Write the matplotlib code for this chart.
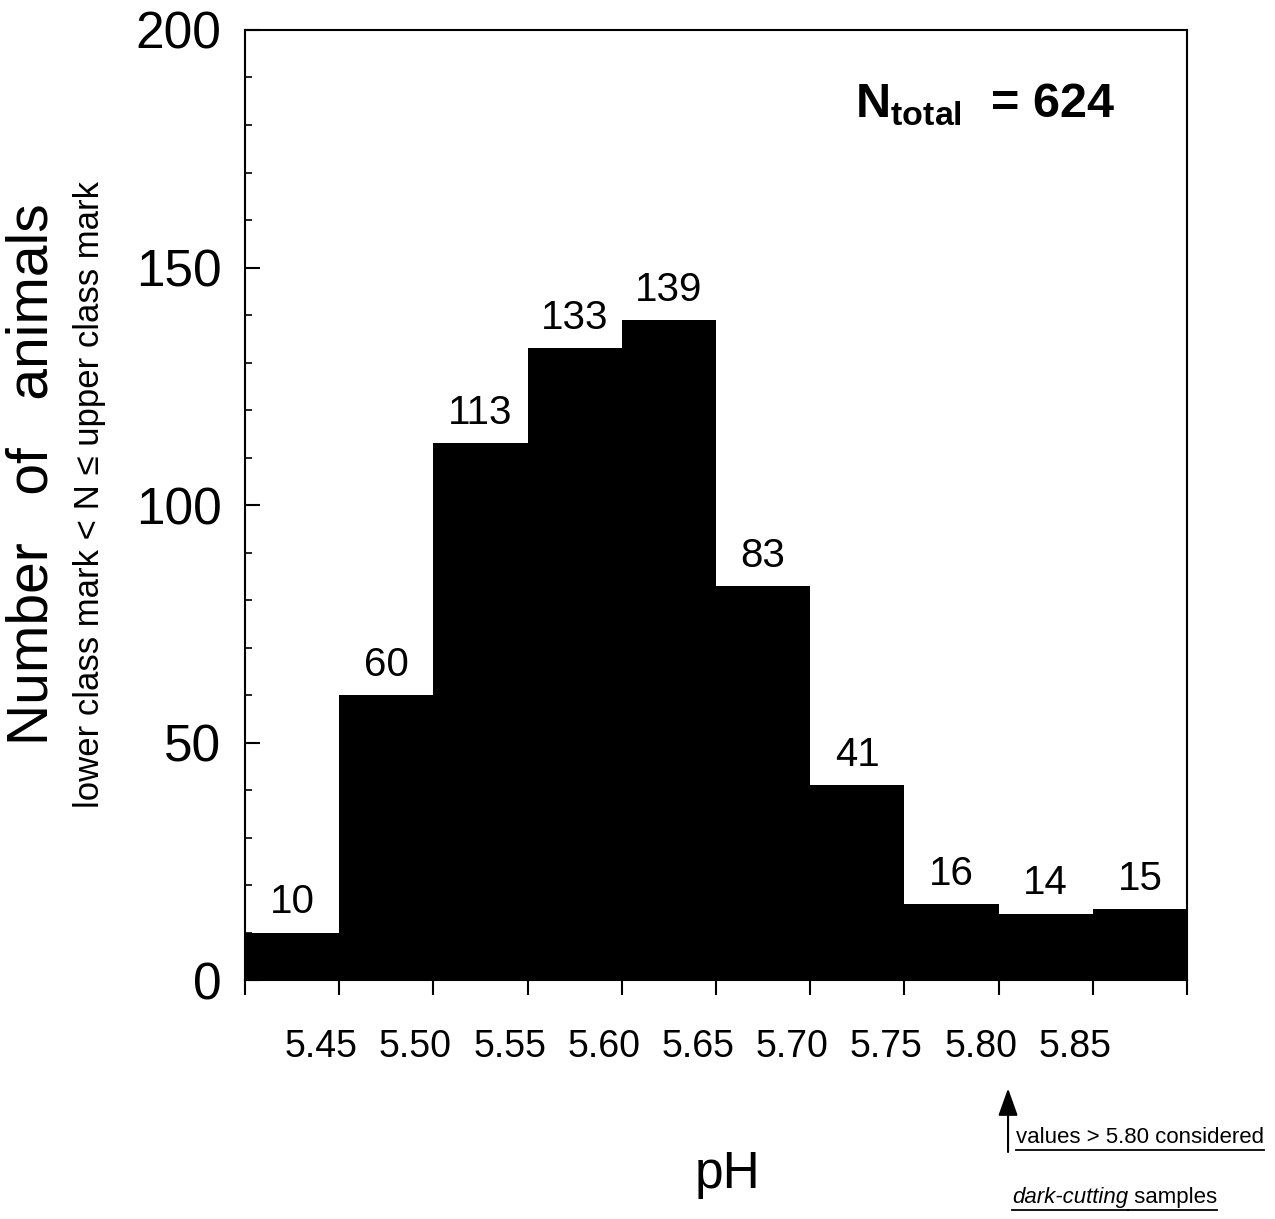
import matplotlib
matplotlib.use("Agg")
import matplotlib.pyplot as plt
import matplotlib.transforms as mtransforms
from matplotlib.lines import Line2D
from matplotlib.ticker import MultipleLocator

# class edges (pH) and counts per class
bin_edges = [5.40, 5.45, 5.50, 5.55, 5.60, 5.65, 5.70, 5.75, 5.80, 5.85, 5.90]
counts = [10, 60, 113, 133, 139, 83, 41, 16, 14, 15]
tick_labels = ["", "5.45", "5.50", "5.55", "5.60", "5.65", "5.70", "5.75", "5.80", "5.85", ""]
n_total = 624
cutoff = 5.805

plt.rcParams["font.family"] = ["Liberation Sans", "DejaVu Sans"]
plt.rcParams["mathtext.fontset"] = "custom"
plt.rcParams["mathtext.rm"] = "Liberation Sans"
plt.rcParams["mathtext.bf"] = "Liberation Sans:bold"

fig = plt.figure(figsize=(12.75, 12.19), dpi=100)
ax = fig.add_axes([0.1922, 0.196, 0.7388, 0.7794])

widths = [b - a for a, b in zip(bin_edges[:-1], bin_edges[1:])]
bars = ax.bar(bin_edges[:-1], counts, width=widths, align="edge",
              color="black", edgecolor="none")
for rect, c in zip(bars, counts):
    ax.annotate(str(c), (rect.get_x() + rect.get_width() / 2, c),
                xytext=(0, 8), textcoords="offset points",
                ha="center", va="bottom", fontsize=29)

ax.set_xlim(bin_edges[0], bin_edges[-1])
ax.set_ylim(0, 200)
for s in ax.spines.values():
    s.set_linewidth(1.5)

ax.yaxis.set_major_locator(MultipleLocator(50))
ax.yaxis.set_minor_locator(MultipleLocator(10))
ax.tick_params(axis="y", which="major", direction="in", length=11, width=1.5,
               labelsize=37, pad=17)
ax.tick_params(axis="y", which="minor", direction="in", length=5, width=1.2)
ax.set_xticks(bin_edges)
ax.set_xticklabels(tick_labels)
ax.tick_params(axis="x", which="major", direction="out", length=11, width=1.5,
               labelsize=27, pad=24)
shift = mtransforms.ScaledTranslation(-0.18, 0, fig.dpi_scale_trans)
for lab in ax.get_xticklabels():
    lab.set_transform(lab.get_transform() + shift)

ax.text(-0.226, 0.532, "Number   of   animals", transform=ax.transAxes,
        rotation=90, ha="center", va="center", fontsize=41)
ax.text(-0.165, 0.511, "lower class mark < N \u2264 upper class mark",
        transform=ax.transAxes, rotation=90, ha="center", va="center",
        fontsize=25)
ax.text(0.512, -0.205, "pH", transform=ax.transAxes, ha="center",
        va="center", fontsize=37)

ax.text(0.648, 0.907, r"$\mathbf{N}_{\mathbf{total}}$  = " + str(n_total),
        transform=ax.transAxes, ha="left", va="baseline", fontsize=35,
        fontweight="bold")

xt = ax.get_xaxis_transform()
ax.annotate("", xy=(cutoff, -0.114), xytext=(cutoff, -0.181), xycoords=xt,
            textcoords=xt, annotation_clip=False,
            arrowprops=dict(arrowstyle="-|>,head_length=1.4,head_width=0.5",
                            mutation_scale=12, lw=1.5, color="black",
                            shrinkA=0, shrinkB=0))

t1 = ax.text(cutoff + 0.004, -0.172, "values > 5.80 considered",
             transform=xt, ha="left", va="baseline", fontsize=16)
t2 = ax.text(cutoff + 0.002, -0.235, "dark-cutting", transform=xt,
             ha="left", va="baseline", fontsize=16, style="italic")

fig.canvas.draw()
r = fig.canvas.get_renderer()
bb2 = t2.get_window_extent(r)
y2 = fig.transFigure.inverted().transform(xt.transform((cutoff, -0.235)))[1]
t3 = fig.text(bb2.x1 / fig.bbox.width, y2, " samples", fontsize=16,
              va="baseline")
fig.canvas.draw()
for t in (t1, t2, t3):
    bb = t.get_window_extent(r)
    yl = bb.y0 - 2
    fig.add_artist(Line2D([bb.x0 / fig.bbox.width, bb.x1 / fig.bbox.width],
                          [yl / fig.bbox.height, yl / fig.bbox.height],
                          transform=fig.transFigure, color="black", lw=1.3))

fig.savefig("out.png", dpi=100)
plt.close(fig)
